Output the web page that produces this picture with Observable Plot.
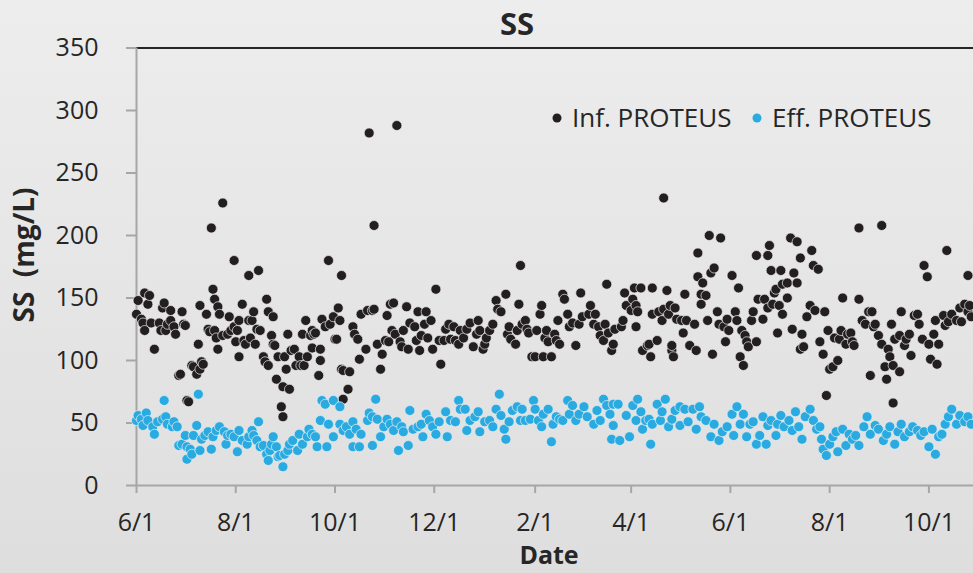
<!DOCTYPE html>
<html><head><meta charset="utf-8">
<script src="https://cdn.jsdelivr.net/npm/d3@7"></script>
<script src="https://cdn.jsdelivr.net/npm/@observablehq/plot@0.6"></script>
<style>
html,body{margin:0;padding:0;width:973px;height:573px;overflow:hidden;}
body{background:linear-gradient(#ededed,#dedede);font-family:"Open Sans",sans-serif;}
#chart{position:absolute;left:0;top:0;width:1040px;}
#chart svg{max-width:none !important;width:1040px;height:573px;}
</style></head><body><div id="chart"></div>
<script>
const startDate = "2018-06-01";
const endDay = 531;
const xTickDates = ["2018-06-01","2018-08-01","2018-10-01","2018-12-01","2019-02-01","2019-04-01","2019-06-01","2019-08-01","2019-10-01"];
const yTicks = [0,50,100,150,200,250,300,350];
const seriesNames = ["Inf. PROTEUS","Eff. PROTEUS"];
const seriesColors = ["#231f20","#29abe2"];
const chartTitle = "SS";
const yTitle = "SS  (mg/L)";
const xTitle = "Date";

// Influent: day offset from start, SS value (mg/L)
const infDay = [0,1,3,4,5,5,7,8,9,11,14,15,16,17,18,19,21,21,23,24,26,27,28,29,30,31,32,34,35,37,38,39,39,40,41,43,44,45,46,47,48,48,49,50,50,51,53,53,56,57,58,60,60,61,62,63,63,65,66,67,69,69,70,71,72,73,74,75,76,78,79,80,81,81,83,84,84,85,86,87,89,90,90,91,92,93,94,95,97,98,100,101,102,103,104,105,107,108,108,109,110,112,113,113,114,116,118,119,121,122,123,124,125,126,126,127,127,130,131,133,134,136,137,138,141,142,143,
145,146,146,148,150,151,153,154,155,156,157,158,159,160,162,163,164,166,167,168,171,172,173,174,175,177,178,179,181,182,184,186,187,189,190,192,193,195,196,198,199,201,203,205,207,209,210,211,213,214,215,217,219,221,222,224,227,228,229,230,233,234,235,236,237,239,240,241,243,245,246,248,249,250,251,252,253,255,257,258,259,260,262,263,265,266,268,270,272,273,274,278,279,281,282,284,285,287,288,289,290,
292,293,294,298,299,300,301,304,305,306,307,307,308,310,311,314,315,316,317,317,320,321,323,324,324,326,327,328,329,329,330,331,332,335,336,337,338,340,343,344,345,345,347,347,348,350,351,352,353,354,355,357,358,359,361,362,363,364,366,368,369,370,371,372,373,374,375,376,378,379,381,381,382,385,386,388,388,389,390,391,392,393,394,395,396,397,397,400,400,402,403,404,406,406,408,408,409,410,412,414,415,416,417,419,420,422,423,424,425,426,428,429,431,432,433,434,436,437,439,440,441,444,444,446,448,450,451,452,453,454,456,458,458,460,461,462,463,464,465,465,466,469,469,470,472,473,475,476,478,480,481,483,484,486,487,488,490,491,492,493,496,497,498,499,501,504,506,507,509,511,511,512,513];
const infSS = [137,148,133,130,154,124,145,152,130,109,130,124,142,146,124,129,140,132,127,121,88,89,139,129,128,68,67,96,95,89,113,93,144,99,97,137,125,123,206,157,149,124,118,143,109,137,120,226,121,135,124,127,180,115,124,103,132,145,116,113,132,168,118,132,139,113,125,172,124,103,99,149,139,96,120,135,113,112,85,103,63,79,55,103,93,121,77,108,109,96,103,96,121,96,132,103,120,110,124,121,122,88,100,109,133,127,180,129,135,117,117,142,132,93,168,92,69,77,91,127,121,117,101,137,109,140,282,
140,141,208,113,93,105,116,136,115,145,124,146,121,288,115,111,124,143,109,130,127,116,139,108,120,129,139,118,132,109,157,116,97,116,125,129,117,127,116,113,124,118,125,130,111,121,132,124,109,113,118,124,129,148,141,139,153,121,127,117,113,124,145,176,129,132,125,122,103,103,124,137,144,103,118,124,115,103,121,116,132,113,153,149,137,127,130,112,129,154,135,137,144,129,137,127,120,116,129,161,122,
108,113,125,127,132,154,144,140,149,158,144,127,139,158,108,112,113,103,158,137,116,139,132,141,230,156,137,144,108,112,103,142,133,132,122,153,132,112,129,108,186,167,145,153,162,152,132,200,170,105,174,139,129,198,127,115,133,124,168,139,132,158,103,124,96,120,115,111,132,139,115,184,149,133,149,142,184,192,172,145,154,157,122,144,172,137,161,150,162,198,125,170,162,195,109,182,121,111,135,144,188,176,140,173,115,105,139,72,124,93,95,118,100,117,124,150,113,121,122,115,112,149,206,132,129,139,88,139,127,129,120,113,208,95,85,109,103,129,96,66,117,91,120,139,112,117,121,104,136,137,129,117,176,167,113,101,121,132,97,113,136,128,188,131,137,132,142,131,145,139,168,144,135];

// Effluent
const effDay = [0,1,3,4,6,7,10,11,13,16,17,18,19,22,23,25,26,28,30,31,31,33,34,35,37,38,39,40,42,44,46,47,49,51,54,55,56,58,60,62,63,65,68,69,71,72,74,75,76,78,80,81,82,83,84,86,87,88,90,91,93,94,96,99,100,102,105,106,108,110,111,113,114,116,117,118,121,121,125,125,127,129,131,133,133,135,137,138,142,143,
145,145,147,148,150,152,154,156,158,160,161,163,164,167,168,170,173,175,176,178,180,182,184,186,190,191,193,196,198,199,202,203,205,208,210,211,214,217,219,221,223,224,226,227,229,231,234,236,237,239,242,244,245,247,249,250,253,255,256,258,260,262,265,266,268,270,272,275,277,281,283,285,287,289,291,
292,293,293,296,297,301,303,305,307,308,310,311,313,315,316,317,320,322,323,325,327,329,331,334,334,337,339,342,344,346,347,350,353,355,358,360,363,366,367,369,371,373,375,377,379,381,383,385,387,388,390,393,394,396,398,401,403,405,407,409,411,414,416,418,420,421,422,424,426,428,430,431,434,436,438,440,442,444,447,449,451,454,456,459,461,463,466,468,470,472,475,477,480,482,484,487,489,491,493,495,497,499,501,504,506,509,511,513];
const effSS = [52,56,53,48,58,52,47,41,51,53,68,55,49,47,51,47,32,33,40,31,21,29,25,40,48,73,28,37,40,43,29,39,44,47,43,33,40,41,39,27,44,36,33,39,44,40,36,51,31,32,25,20,28,33,39,31,23,24,15,25,28,33,36,28,41,33,39,45,41,39,31,52,68,65,31,49,68,39,63,49,44,47,41,51,31,45,31,41,52,58,
55,32,69,53,39,47,53,49,44,51,28,47,43,32,60,45,47,49,39,57,52,47,41,51,59,39,52,51,68,61,61,44,52,55,59,43,51,52,47,61,73,56,45,37,51,60,63,52,61,52,53,68,61,52,47,57,61,35,49,55,53,52,68,57,64,52,57,63,55,49,60,52,69,64,57,
37,65,48,65,36,56,39,64,52,69,59,45,52,53,33,49,65,52,59,69,47,53,60,63,48,61,51,61,45,63,55,52,39,49,36,43,47,57,40,63,49,57,39,49,51,33,40,55,33,48,52,40,49,56,47,52,44,59,47,37,55,61,52,45,47,37,29,24,33,39,43,27,45,32,41,37,40,32,47,55,41,48,45,36,41,47,33,43,49,39,43,47,44,40,43,31,45,25,39,41,49,55,61,49,56,51,55,49];

const t0 = new Date(startDate);
const toDate = d => new Date(t0.getTime() + d * 864e5);
const infData = infDay.map((d, i) => ({date: toDate(d), v: infSS[i]}));
const effData = effDay.map((d, i) => ({date: toDate(d), v: effSS[i]}));
const xTicks = xTickDates.map(s => new Date(s));
const fmt = d => `${d.getUTCMonth() + 1}/${d.getUTCDate()}`;

const chart = Plot.plot({
  width: 1040, height: 573,
  marginLeft: 136, marginRight: 40, marginTop: 47.5, marginBottom: 88,
  style: {background: "transparent", fontFamily: "'Open Sans', sans-serif", color: "#262626", overflow: "visible", maxWidth: "none"},
  x: {type: "utc", domain: [t0, toDate(endDay)]},
  y: {domain: [0, 350]},
  marks: [
    Plot.ruleY([350], {stroke: "#262626", strokeWidth: 2}),
    Plot.axisY({ticks: yTicks, tickSize: 10, tickPadding: 28, stroke: "#a6a6a6", strokeWidth: 2, fontSize: 25, label: null}),
    Plot.axisX({ticks: xTicks, tickFormat: fmt, tickSize: 8, tickPadding: 20, stroke: "#a6a6a6", strokeWidth: 2, fontSize: 25, label: null}),
    Plot.ruleY([0], {stroke: "#a6a6a6", strokeWidth: 2}),
    Plot.ruleX([t0], {stroke: "#a6a6a6", strokeWidth: 2}),
    Plot.dot(infData, {x: "date", y: "v", r: 5, fill: seriesColors[0], stroke: "#ececec", strokeWidth: 0.7}),
    Plot.dot(effData, {x: "date", y: "v", r: 5, fill: seriesColors[1], stroke: "#ececec", strokeWidth: 0.7})
  ]
});
document.getElementById("chart").appendChild(chart);

const svg = d3.select(chart);
svg.append("text").attr("x", 517).attr("y", 35).attr("text-anchor", "middle")
  .attr("font-size", 31).attr("font-weight", "bold").attr("fill", "#262626").text(chartTitle);
svg.append("text").attr("transform", "translate(34,255) rotate(-90)").attr("text-anchor", "middle")
  .attr("font-size", 28).attr("font-weight", "bold").attr("fill", "#262626")
  .attr("xml:space", "preserve").style("white-space", "pre").text(yTitle);
svg.append("text").attr("x", 549).attr("y", 564).attr("text-anchor", "middle")
  .attr("font-size", 25).attr("font-weight", "bold").attr("fill", "#262626").text(xTitle);

const legendX = [557, 757];
seriesNames.forEach((name, i) => {
  svg.append("circle").attr("cx", legendX[i]).attr("cy", 118).attr("r", 4.5).attr("fill", seriesColors[i]);
  svg.append("text").attr("x", legendX[i] + 15).attr("y", 127).attr("text-anchor", "start")
    .attr("font-size", 26).attr("fill", "#262626").text(name);
});
</script></body></html>
